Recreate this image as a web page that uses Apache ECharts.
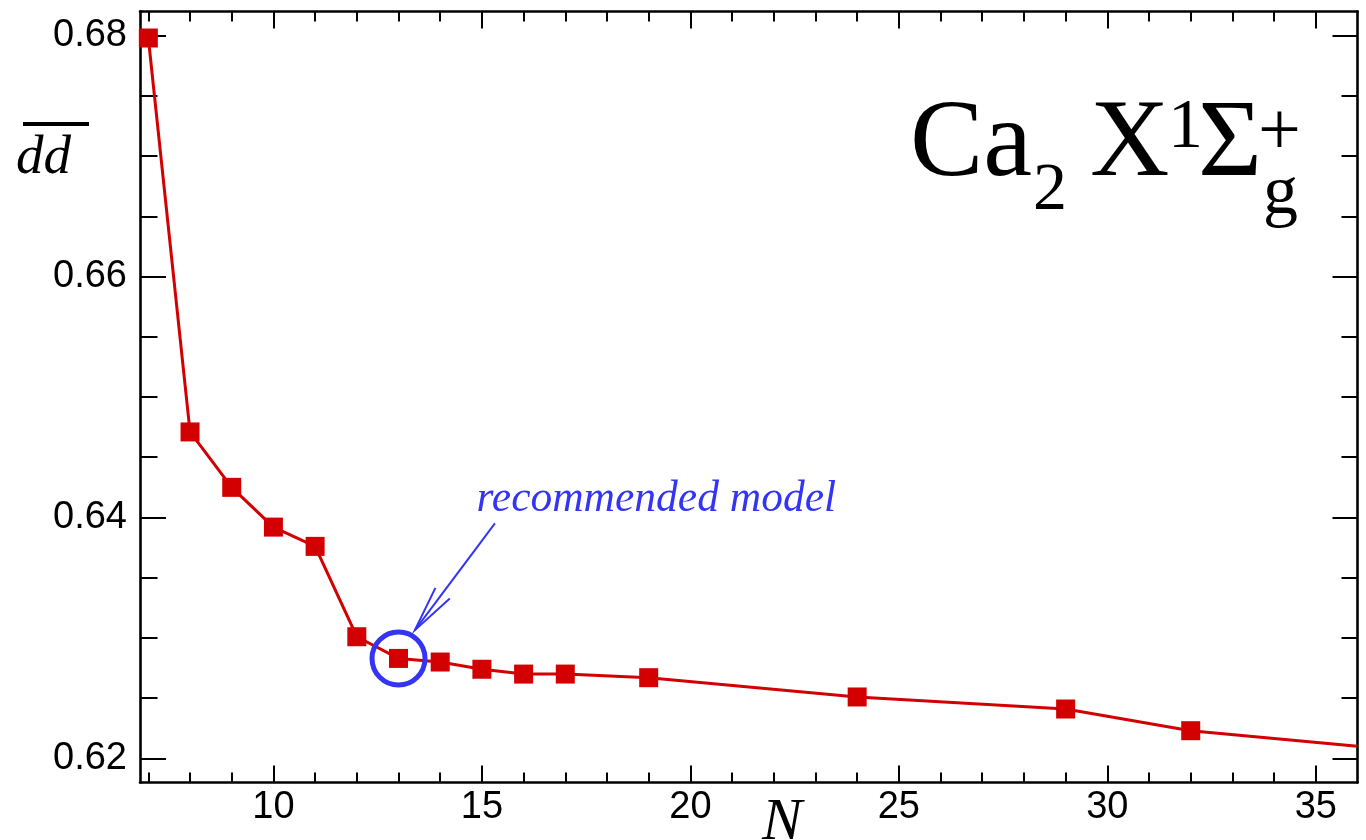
<!DOCTYPE html>
<html>
<head>
<meta charset="utf-8">
<script src="https://cdn.jsdelivr.net/npm/echarts@6/dist/echarts.min.js"></script>
<style>
  html, body { margin: 0; padding: 0; background: #ffffff; }
  #chart { width: 1366px; height: 840px; }
</style>
</head>
<body>
<div id="chart"></div>
<script>
// Averaged dd value against basis size N for the Ca2 ground state
const nValues  = [7, 8, 9, 10, 11, 12, 13, 14, 15, 16, 17, 19, 24, 29, 32, 36];
const ddValues = [0.6798, 0.6471, 0.6425, 0.6392, 0.6376, 0.6301, 0.6283, 0.6280,
                  0.6274, 0.6270, 0.6270, 0.6267, 0.6251, 0.6241, 0.6223, 0.6210];
// the last entry sits on the right frame; the curve runs on past it, so no marker there
const hiddenMarkerN = [36];

const xMajorTicks = [10, 15, 20, 25, 30, 35];
const xMinorTicks = [7, 8, 9, 11, 12, 13, 14, 16, 17, 18, 19, 21, 22, 23, 24,
                     26, 27, 28, 29, 31, 32, 33, 34];
const yMajorTicks = [0.62, 0.64, 0.66, 0.68];
const yMinorTicks = [0.625, 0.63, 0.635, 0.645, 0.65, 0.655, 0.665, 0.67, 0.675];

const recommendedN = 13;
const noteText = 'recommended model';

const X_RANGE = [6.8, 36];
const Y_RANGE = [0.618, 0.682];

const RED = '#d20000';
const BLUE = '#3434f4';
const SANS = '"Liberation Sans", Arial, Helvetica, sans-serif';
const SERIF = '"Liberation Serif", "Times New Roman", Times, serif';

const frameLine = { show: true, lineStyle: { color: '#000', width: 2.6 } };

function xAxis(position, ticks, tickLen, labels) {
  return {
    type: 'value', position: position, min: X_RANGE[0], max: X_RANGE[1],
    axisLine: labels !== undefined ? frameLine : { show: false },
    axisTick: { show: true, inside: true, length: tickLen, customValues: ticks,
                lineStyle: { color: '#000', width: 2 } },
    axisLabel: labels
      ? { show: true, customValues: labels, color: '#000', fontFamily: SANS,
          fontSize: 38, margin: 6 }
      : { show: false },
    splitLine: { show: false }
  };
}

function yAxis(position, ticks, tickLen, labels) {
  return {
    type: 'value', position: position, min: Y_RANGE[0], max: Y_RANGE[1],
    axisLine: labels !== undefined ? frameLine : { show: false },
    axisTick: { show: true, inside: true, length: tickLen, customValues: ticks,
                lineStyle: { color: '#000', width: 2 } },
    axisLabel: labels
      ? { show: true, customValues: labels, color: '#000', fontFamily: SANS,
          fontSize: 38, margin: 13, formatter: v => v.toFixed(2) }
      : { show: false },
    splitLine: { show: false }
  };
}

const seriesData = nValues.map((n, i) => {
  const item = { value: [n, ddValues[i]] };
  if (hiddenMarkerN.indexOf(n) >= 0) item.symbolSize = 0;
  return item;
});

const chart = echarts.init(document.getElementById('chart'), null, { renderer: 'canvas' });

chart.setOption({
  backgroundColor: '#ffffff',
  animation: false,
  grid: { left: 140, right: 8.5, top: 11.5, bottom: 57.5, outerBoundsMode: 'none' },
  xAxis: [
    xAxis('bottom', xMajorTicks, 17, xMajorTicks),
    xAxis('bottom', xMinorTicks, 10),
    xAxis('top', xMajorTicks, 17, null),
    xAxis('top', xMinorTicks, 10)
  ],
  yAxis: [
    yAxis('left', yMajorTicks, 26, yMajorTicks),
    yAxis('left', yMinorTicks, 17.5),
    yAxis('right', yMajorTicks, 25, null),
    yAxis('right', yMinorTicks, 16)
  ],
  series: [{
    type: 'line',
    xAxisIndex: 0, yAxisIndex: 0,
    data: seriesData,
    symbol: 'rect', symbolSize: 19,
    lineStyle: { color: RED, width: 3 },
    itemStyle: { color: RED },
    z: 3
  }]
});

// annotation around the recommended basis
const recIdx = nValues.indexOf(recommendedN);
const c = chart.convertToPixel({ xAxisIndex: 0, yAxisIndex: 0 }, [recommendedN, ddValues[recIdx]]);
const tip = [c[0] + 16.4, c[1] - 28.3];
const tail = [c[0] + 96.4, c[1] - 135];
const dx = tail[0] - tip[0], dy = tail[1] - tip[1];
const dl = Math.hypot(dx, dy);
const ux = dx / dl, uy = dy / dl;
const headLen = 47, headAng = 11 * Math.PI / 180;
function rot(x, y, a) { return [x * Math.cos(a) - y * Math.sin(a), x * Math.sin(a) + y * Math.cos(a)]; }
const b1 = rot(ux, uy, headAng), b2 = rot(ux, uy, -headAng);

function baselineText(str, x, baseline, size, style, color) {
  return {
    type: 'text', x: x, y: baseline - 0.305 * size, z: 50,
    style: {
      text: str, fill: color || '#000',
      font: (style ? style + ' ' : '') + size + 'px ' + SERIF,
      textAlign: 'left', textVerticalAlign: 'middle'
    }
  };
}

chart.setOption({
  graphic: [
    { type: 'circle', z: 50, shape: { cx: c[0], cy: c[1], r: 26.5 },
      style: { fill: 'none', stroke: BLUE, lineWidth: 5 } },
    { type: 'line', z: 50, shape: { x1: tail[0], y1: tail[1], x2: tip[0], y2: tip[1] },
      style: { stroke: BLUE, lineWidth: 2 } },
    { type: 'polyline', z: 50,
      shape: { points: [
        [tip[0] + b1[0] * headLen, tip[1] + b1[1] * headLen],
        tip,
        [tip[0] + b2[0] * headLen, tip[1] + b2[1] * headLen]
      ] },
      style: { stroke: BLUE, lineWidth: 2, fill: 'none' } },
    baselineText(noteText, c[0] + 78, c[1] - 145.6, 43.5, 'italic', BLUE),

    // molecule / state label
    baselineText('Ca', 910, 180, 110),
    baselineText('2', 1033, 212, 68),
    baselineText('X', 1090, 180, 110),
    baselineText('1', 1168, 150, 70),
    baselineText('\u03A3', 1198, 180, 110),
    baselineText('+', 1258, 157, 76),
    baselineText('g', 1263, 216, 70),

    // axis titles
    baselineText('dd', 16, 175, 55, 'italic'),
    { type: 'line', z: 50, shape: { x1: 23, y1: 124, x2: 89, y2: 124 },
      style: { stroke: '#000', lineWidth: 4 } },
    baselineText('N', 762, 841.5, 60, 'italic')
  ]
});
</script>
</body>
</html>
